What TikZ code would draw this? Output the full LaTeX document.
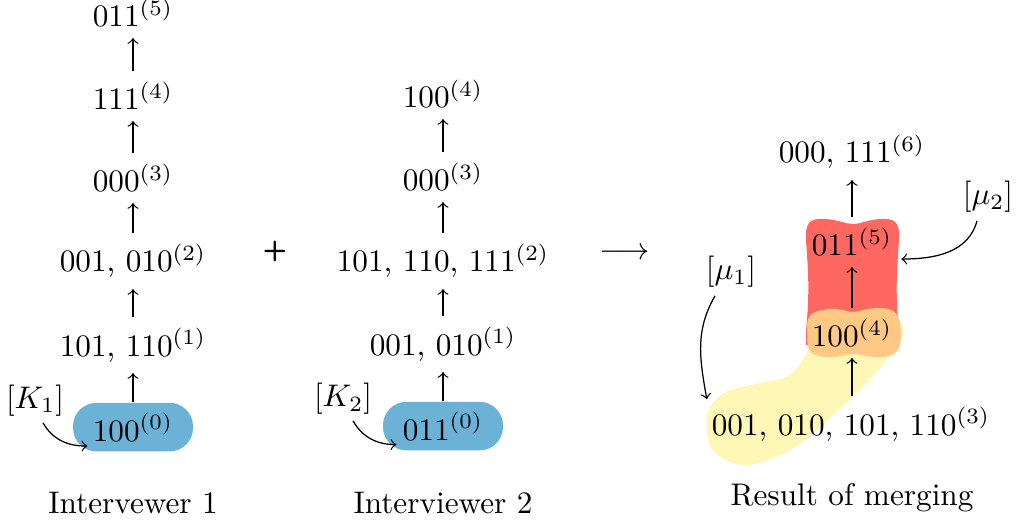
\documentclass[tikz,border=0pt]{standalone}
\usetikzlibrary{calc}
\definecolor{blobblue}{RGB}{107,178,214}
\definecolor{blobred}{RGB}{255,104,96}
\definecolor{bloborange}{RGB}{255,201,133}
\definecolor{blobyellow}{RGB}{255,247,181}
\begin{document}
\begin{tikzpicture}[x=0.32pt,y=0.32pt,
  lbl/.style={anchor=base},
  blob/.style={anchor=base, fill=blobblue, rounded corners=7.5pt, minimum width=38.4pt, minimum height=15pt},
  arr/.style={->, thin}]
\useasboundingbox (0,0) rectangle (1026,522);

% merged blobs
\fill[blobyellow] plot[smooth cycle, tension=0.6] coordinates {(707,105) (722,128) (755,138) (788,146) (806,168) (825,205) (880,210) (903,192) (880,154) (830,104) (790,72) (745,57) (713,72)};
\fill[blobred] (806,282) .. controls (805,300) and (810,304) .. (825,303)
  .. controls (840,302) and (845,298) .. (853,298)
  .. controls (861,298) and (866,302) .. (880,303)
  .. controls (895,304) and (900,300) .. (899,282)
  .. controls (897,252) and (895,232) .. (899,192) -- (899,177) -- (806,177) -- (806,192)
  .. controls (810,232) and (808,252) .. (806,282) -- cycle;
\fill[bloborange] (807,189) .. controls (806,207) and (810,211) .. (830,213)
  .. controls (842,214) and (846,210) .. (853,210)
  .. controls (860,210) and (865,214) .. (878,214)
  .. controls (896,214) and (900,208) .. (901,189)
  .. controls (901,170) and (896,165) .. (878,165)
  .. controls (865,165) and (860,168) .. (853,168)
  .. controls (846,168) and (842,165) .. (830,165)
  .. controls (810,165) and (807,170) .. (807,189) -- cycle;

% Interviewer 1
\node[lbl] (a5) at (133,495) {$011^{(5)}$};
\node[lbl] (a4) at (133,412) {$111^{(4)}$};
\node[lbl] (a3) at (133,330) {$000^{(3)}$};
\node[lbl] (a2) at (133,250) {001, 010$^{(2)}$};
\node[lbl] (a1) at (133,166) {101, 110$^{(1)}$};
\node[blob] (a0) at (133,81) {$100^{(0)}$};
\node[lbl] (K1) at (35,114) {$[K_1]$};
\node[lbl] (L1) at (133,9) {Intervewer 1};
\draw[arr] (a0) -- (a1);
\draw[arr] (a1) -- (a2);
\draw[arr] (a2) -- (a3);
\draw[arr] (a3) -- (a4);
\draw[arr] (a4) -- (a5);
\draw[arr] ($(K1.south)+(8,4)$) to[out=-60,in=180] ($(a0.south west)+(15,6)$);

% Interviewer 2
\node[lbl] (b4) at (443,414) {$100^{(4)}$};
\node[lbl] (b3) at (443,331) {$000^{(3)}$};
\node[lbl] (b2) at (443,250) {101, 110, 111$^{(2)}$};
\node[lbl] (b1) at (443,167) {001, 010$^{(1)}$};
\node[blob] (b0) at (443,82) {$011^{(0)}$};
\node[lbl] (K2) at (343,115) {$[K_2]$};
\node[lbl] (L2) at (443,9) {Interviewer 2};
\draw[arr] (b0) -- (b1);
\draw[arr] (b1) -- (b2);
\draw[arr] (b2) -- (b3);
\draw[arr] (b3) -- (b4);
\draw[arr] ($(K2.south)+(10,5)$) to[out=-60,in=180] ($(b0.south west)+(14,6.5)$);

% operators
\node (plus) at (275,271) {\sffamily\bfseries\small +};
\node (to) at (625,268) {$\longrightarrow$};

% Result
\node[lbl] (c6) at (852,359) {000, 111$^{(6)}$};
\node[lbl] (c5) at (852,266) {$011^{(5)}$};
\node[lbl] (c4) at (852,175) {$100^{(4)}$};
\node[lbl] (c3) at (851,87) {001, 010, 101, 110$^{(3)}$};
\node[lbl] (mu1) at (731,242) {$[\mu_1]$};
\node[lbl] (mu2) at (988,317) {$[\mu_2]$};
\node[lbl] (L3) at (852,17) {Result of merging};
\draw[arr] (c3.north -| c4) -- (c4);
\draw[arr] (c4) -- (c5);
\draw[arr] (c5) -- (c6);
\draw[arr] ($(mu1.south)+(-16,3)$) to[out=-120,in=100] ($(c3.north west)+(6,-3)$);
\draw[arr] ($(mu2.south)+(-11,3)$) to[out=-105,in=0] ($(c5.south east)+(-2,8)$);
\end{tikzpicture}
\end{document}
